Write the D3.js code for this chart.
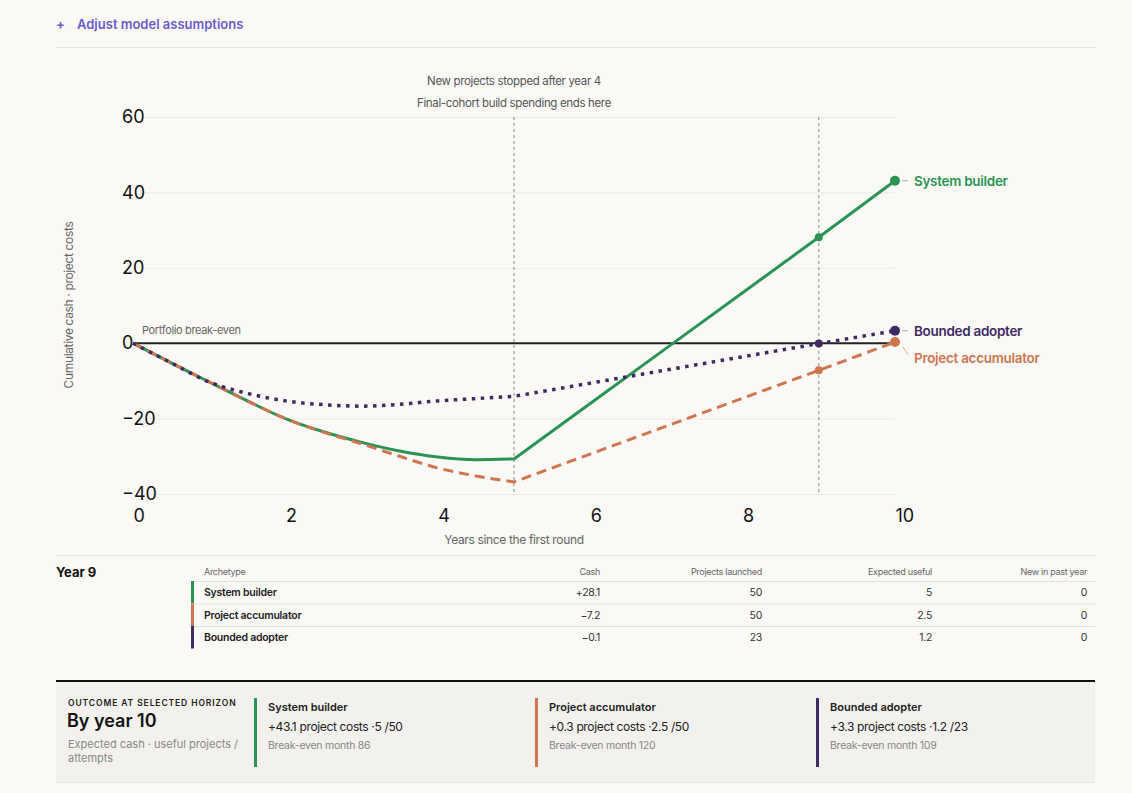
<!DOCTYPE html>
<html>
<head>
<meta charset="utf-8">
<script src="https://cdn.jsdelivr.net/npm/d3@7"></script>
<style>
  html, body { margin:0; padding:0; background:#faf9f6; }
  body { width:1132px; height:793px; overflow:hidden; font-family: Inter, "Noto Sans", sans-serif; }
  svg text { font-family: Inter, "Noto Sans", sans-serif; }
</style>
</head>
<body>
<svg id="chart" width="1132" height="793"></svg>
<script>
// ---- data ----
const years = [0, 0.5, 1, 1.5, 2, 2.5, 3, 3.5, 4, 4.5, 5, 6, 7, 8, 9, 10];
const systemBuilder = [0, -5.2, -10.3, -15.3, -20, -23.5, -26.3, -28.6, -30.2, -30.9, -30.7, -16, -1.3, 13.4, 28.1, 43.1];
const projectAccumulator = [0, -5.2, -10.3, -15.3, -20, -23.6, -26.7, -30, -33.1, -35.2, -36.8, -29.4, -22, -14.6, -7.2, 0.3];
const boundedAdopter = [0, -5.2, -10.3, -13.3, -15.3, -16.3, -16.7, -16.2, -15.3, -14.7, -14.1, -10.6, -7.1, -3.6, -0.1, 3.3];

const seriesNames = ['System builder', 'Project accumulator', 'Bounded adopter'];
const seriesColors = ['#2b9455', '#cd7650', '#3f2b63'];
const seriesDash = [null, '10,6', '3.5,5.5'];

const xTicks = [0, 2, 4, 6, 8, 10];
const yTicks = [-40, -20, 0, 20, 40, 60];
const markerYears = [5, 9];
const buildEndYear = 5;
const selectedYear = 9;
const horizonYear = 10;

// table for selected year
const tableHeaders = ['Archetype', 'Cash', 'Projects launched', 'Expected useful', 'New in past year'];
const tableCash = ['+28.1', '\u22127.2', '\u22120.1'];
const tableLaunched = ['50', '50', '23'];
const tableUseful = ['5', '2.5', '1.2'];
const tableNew = ['0', '0', '0'];

// outcome panel
const outcomeCash = ['+43.1', '+0.3', '+3.3'];
const outcomeUseful = ['5', '2.5', '1.2'];
const outcomeAttempts = ['50', '50', '23'];
const breakEvenMonth = [86, 120, 109];

// ---- layout ----
const svg = d3.select('#chart');
const left = 56, right = 1095;
const x = d3.scaleLinear().domain([0, 10]).range([133, 895]);
const y = d3.scaleLinear().domain([-40, 60]).range([494, 117]);
const tight = -0.35;

// header
svg.append('text').attr('x', 56).attr('y', 29).attr('fill', '#6b5bd0')
  .attr('font-size', 13).attr('font-weight', 700).text('+');
svg.append('text').attr('x', 77).attr('y', 29).attr('fill', '#6b5bd0')
  .attr('font-size', 13).attr('font-weight', 600).text('Adjust model assumptions');
svg.append('line').attr('x1', left).attr('x2', right).attr('y1', 47.5).attr('y2', 47.5)
  .attr('stroke', '#e6e4de');

// gridlines + y labels
const yAxis = svg.append('g').attr('transform', 'translate(143,0)')
  .call(d3.axisLeft(y).tickValues(yTicks).tickSize(-(x(10) - 143)).tickPadding(0));
yAxis.select('.domain').remove();
yAxis.selectAll('line').attr('stroke', '#eceae5');
yAxis.selectAll('text').attr('text-anchor', 'start').attr('x', -21)
  .attr('font-size', 18).attr('fill', '#111').attr('font-family', 'Inter, sans-serif');

// x labels
const xAxis = svg.append('g').attr('transform', 'translate(0,509)')
  .call(d3.axisBottom(x).tickValues(xTicks).tickSize(0).tickPadding(0));
xAxis.select('.domain').remove();
xAxis.selectAll('text').attr('text-anchor', 'start').attr('y', 13).attr('dy', 0)
  .attr('font-size', 18).attr('fill', '#111').attr('font-family', 'Inter, sans-serif');

// axis titles
svg.append('text').attr('transform', 'translate(73,305) rotate(-90)').attr('text-anchor', 'middle')
  .attr('font-size', 12).attr('letter-spacing', tight).attr('fill', '#666')
  .text('Cumulative cash \u00b7 project costs');
svg.append('text').attr('x', x(5)).attr('y', 544).attr('text-anchor', 'middle')
  .attr('font-size', 12).attr('letter-spacing', tight).attr('fill', '#666')
  .text('Years since the first round');

// vertical markers
svg.append('g').selectAll('line').data(markerYears).join('line')
  .attr('x1', d => x(d)).attr('x2', d => x(d)).attr('y1', y(60)).attr('y2', y(-40))
  .attr('stroke', '#8a8a8a').attr('stroke-width', 1).attr('stroke-dasharray', '3,3');
svg.append('text').attr('x', x(5)).attr('y', 85).attr('text-anchor', 'middle')
  .attr('font-size', 11.5).attr('letter-spacing', tight).attr('fill', '#555')
  .text('New projects stopped after year 4');
svg.append('text').attr('x', x(5)).attr('y', 107).attr('text-anchor', 'middle')
  .attr('font-size', 11.5).attr('letter-spacing', tight).attr('fill', '#555')
  .text('Final-cohort build spending ends here');

// break-even line
svg.append('line').attr('x1', x(0)).attr('x2', x(10)).attr('y1', y(0)).attr('y2', y(0))
  .attr('stroke', '#222').attr('stroke-width', 2);
svg.append('text').attr('x', 142).attr('y', 334).attr('font-size', 11)
  .attr('letter-spacing', tight).attr('fill', '#666').text('Portfolio break-even');

// lines: smooth during build phase, straight afterwards (sharp kink at year 5)
const seriesVals = [systemBuilder, projectAccumulator, boundedAdopter];
const kink = years.indexOf(buildEndYear);
const smooth = d3.line().x(d => x(d[0])).y(d => y(d[1])).curve(d3.curveMonotoneX);
const straight = d3.line().x(d => x(d[0])).y(d => y(d[1]));
seriesVals.forEach((vals, s) => {
  const pts = vals.map((v, i) => [years[i], v]);
  const d1 = smooth(pts.slice(0, kink + 1));
  const d2 = straight(pts.slice(kink)).replace(/^M[^L]*/, '');
  svg.append('path').attr('d', d1 + d2).attr('fill', 'none')
    .attr('stroke', seriesColors[s]).attr('stroke-width', s === 2 ? 3.5 : 3)
    .attr('stroke-linejoin', 'round')
    .attr('stroke-dasharray', seriesDash[s]);
});

// markers at selected year and horizon
seriesVals.forEach((vals, s) => {
  const i9 = years.indexOf(selectedYear), i10 = years.indexOf(horizonYear);
  svg.append('circle').attr('cx', x(selectedYear)).attr('cy', y(vals[i9])).attr('r', 4)
    .attr('fill', seriesColors[s]);
  svg.append('circle').attr('cx', x(horizonYear)).attr('cy', y(vals[i10])).attr('r', 5)
    .attr('fill', seriesColors[s]);
});

// end labels with simple collision nudge
const endLabels = seriesVals.map((vals, s) => ({ s, py: y(vals[vals.length - 1]) }))
  .sort((a, b) => a.py - b.py);
endLabels.forEach((d, i) => {
  d.ly = d.py;
  if (i > 0 && d.ly - endLabels[i - 1].ly < 26) d.ly = endLabels[i - 1].ly + 27;
});
endLabels.forEach(d => {
  const c = seriesColors[d.s];
  if (Math.abs(d.ly - d.py) < 1) {
    svg.append('line').attr('x1', 902).attr('x2', 908).attr('y1', d.py).attr('y2', d.py)
      .attr('stroke', '#aaa').attr('stroke-width', 1);
  } else {
    svg.append('line').attr('x1', 903).attr('x2', 908).attr('y1', d.py + 5).attr('y2', d.ly - 3)
      .attr('stroke', c).attr('stroke-opacity', 0.6).attr('stroke-width', 1);
  }
  svg.append('text').attr('x', 914).attr('y', d.ly + 5).attr('font-size', 13.5)
    .attr('letter-spacing', -0.3).attr('font-weight', 600).attr('fill', c).text(seriesNames[d.s]);
});

// divider
svg.append('line').attr('x1', left).attr('x2', right).attr('y1', 555.5).attr('y2', 555.5)
  .attr('stroke', '#e6e4de');

// ---- table ----
svg.append('text').attr('x', 56).attr('y', 577).attr('font-size', 13).attr('font-weight', 700)
  .attr('fill', '#111').text('Year ' + selectedYear);
const colX = [204, 600, 762, 932, 1087];
tableHeaders.forEach((h, i) => {
  svg.append('text').attr('x', colX[i]).attr('y', 575).attr('text-anchor', i === 0 ? 'start' : 'end')
    .attr('font-size', 9).attr('letter-spacing', -0.3).attr('fill', '#666').text(h);
});
const rowY = [581, 603.5, 626];
const rowH = 22.5;
rowY.forEach((ry, r) => {
  svg.append('line').attr('x1', 191).attr('x2', right).attr('y1', ry + 0.5).attr('y2', ry + 0.5)
    .attr('stroke', '#e3e1db');
  svg.append('rect').attr('x', 191).attr('y', ry).attr('width', 3).attr('height', rowH)
    .attr('fill', seriesColors[r]);
  const by = ry + 15;
  svg.append('text').attr('x', colX[0]).attr('y', by).attr('font-size', 10.5).attr('font-weight', 600)
    .attr('letter-spacing', -0.25).attr('fill', '#222').text(seriesNames[r]);
  [tableCash[r], tableLaunched[r], tableUseful[r], tableNew[r]].forEach((v, c) => {
    svg.append('text').attr('x', colX[c + 1]).attr('y', by).attr('text-anchor', 'end')
      .attr('font-size', 10.5).attr('letter-spacing', -0.3).attr('fill', '#333').text(v);
  });
});

// ---- outcome panel ----
svg.append('rect').attr('x', left).attr('y', 682).attr('width', right - left).attr('height', 100)
  .attr('fill', '#f2f1ee');
svg.append('line').attr('x1', left).attr('x2', right).attr('y1', 681).attr('y2', 681)
  .attr('stroke', '#111').attr('stroke-width', 2);
svg.append('line').attr('x1', left).attr('x2', right).attr('y1', 782.5).attr('y2', 782.5)
  .attr('stroke', '#e6e4de');
svg.append('text').attr('x', 68).attr('y', 706).attr('font-size', 8.5).attr('font-weight', 600)
  .attr('letter-spacing', 0.9).attr('fill', '#222').text('OUTCOME AT SELECTED HORIZON');
svg.append('text').attr('x', 67).attr('y', 727).attr('font-size', 18).attr('font-weight', 600)
  .attr('fill', '#111').text('By year ' + horizonYear);
svg.append('text').attr('x', 68).attr('y', 748).attr('font-size', 11).attr('fill', '#888')
  .text('Expected cash \u00b7 useful projects /');
svg.append('text').attr('x', 68).attr('y', 762).attr('font-size', 11).attr('fill', '#888')
  .text('attempts');
const cardX = [254, 535, 816];
cardX.forEach((cx, s) => {
  svg.append('rect').attr('x', cx).attr('y', 698).attr('width', 3).attr('height', 69)
    .attr('fill', seriesColors[s]);
  svg.append('text').attr('x', cx + 14).attr('y', 711).attr('font-size', 11).attr('font-weight', 600)
    .attr('fill', '#222').text(seriesNames[s]);
  svg.append('text').attr('x', cx + 14).attr('y', 731).attr('font-size', 12).attr('letter-spacing', -0.35)
    .attr('fill', '#222')
    .text(outcomeCash[s] + ' project costs \u00b7' + outcomeUseful[s] + ' /' + outcomeAttempts[s]);
  svg.append('text').attr('x', cx + 14).attr('y', 749).attr('font-size', 10.5).attr('letter-spacing', -0.25)
    .attr('fill', '#888').text('Break-even month ' + breakEvenMonth[s]);
});
</script>
</body>
</html>
